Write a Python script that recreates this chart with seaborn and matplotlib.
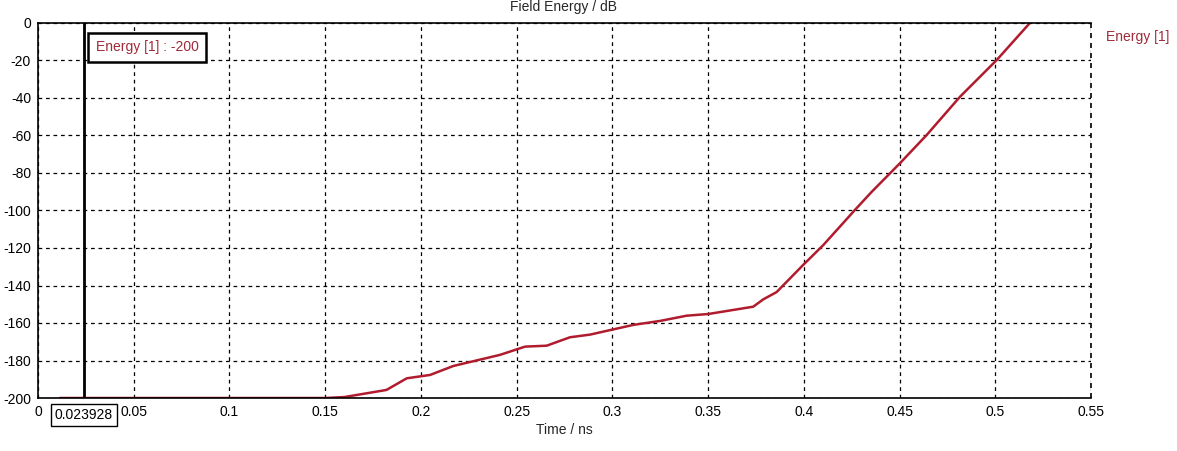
import pandas as pd
import matplotlib
matplotlib.use("Agg")
import matplotlib.pyplot as plt
import seaborn as sns

# Energy curve (time in ns, energy in dB)
time_ns = [0.0115, 0.05, 0.10, 0.150, 0.160, 0.182, 0.1926, 0.2048, 0.217, 0.2413,
           0.2544, 0.2657, 0.2779, 0.2883, 0.311, 0.3249, 0.3388, 0.3501, 0.3736,
           0.3788, 0.3858, 0.3997, 0.4102, 0.4267, 0.4355, 0.4502, 0.4642,
           0.4816, 0.5008, 0.5185]
energy_db = [-200, -200, -200, -200, -199.5, -195.7, -189.5, -187.7, -182.9, -177,
             -172.6, -172.1, -167.6, -166.2, -161, -158.9, -156.1, -155.2, -151.3,
             -147.4, -143.5, -129, -118.4, -99.7, -90, -74.8, -59.7,
             -39.3, -19.7, 0.5]

x_ticks = [0, 0.05, 0.1, 0.15, 0.2, 0.25, 0.3, 0.35, 0.4, 0.45, 0.5, 0.55]
x_tick_labels = ["0", "0.05", "0.1", "0.15", "0.2", "0.25", "0.3", "0.35", "0.4", "0.45", "0.5", "0.55"]
y_ticks = [0, -20, -40, -60, -80, -100, -120, -140, -160, -180, -200]

marker_t = 0.023928
marker_value = -200

df = pd.DataFrame({"Time": time_ns, "Energy": energy_db})

sns.set_style("white")
plt.rcParams["font.family"] = ["Liberation Sans", "DejaVu Sans"]
plt.rcParams["axes.unicode_minus"] = False

red = "#b01c2e"
text_red = "#a02a38"

fig = plt.figure(figsize=(11.77, 4.51), dpi=100)
ax = fig.add_axes([38 / 1177, 53 / 451, (1091 - 38) / 1177, (398 - 23) / 451])

sns.lineplot(data=df, x="Time", y="Energy", ax=ax, color=red, linewidth=1.8)

ax.set_xlim(0, 0.55)
ax.set_ylim(-200, 0)
ax.set_xticks(x_ticks)
ax.set_xticklabels(x_tick_labels)
ax.set_yticks(y_ticks)
ax.grid(True, color="black", linestyle=(0, (3, 3)), linewidth=0.9)
ax.axvline(0.55, color="black", linestyle=(0, (3, 3)), linewidth=1.2, clip_on=False)
ax.tick_params(direction="inout", length=6, width=1, labelsize=10, colors="black", pad=2)
for s in ["left", "bottom", "top"]:
    ax.spines[s].set_color("black")
    ax.spines[s].set_linewidth(1.2)
ax.spines["right"].set_visible(False)

ax.set_xlabel("Time / ns", fontsize=10, labelpad=3)
ax.set_ylabel("")

# marker line and its labels
ax.axvline(marker_t, color="black", linewidth=2)
ax.text(marker_t + 0.0062, -12.9, f"Energy [1] : {marker_value}", color=text_red, fontsize=10,
        va="center", ha="left",
        bbox=dict(boxstyle="square,pad=0.55", facecolor="white", edgecolor="black", linewidth=1.8))
ax.text(marker_t, -0.0445, f"{marker_t}", transform=ax.get_xaxis_transform(), color="black",
        fontsize=10, ha="center", va="center",
        bbox=dict(boxstyle="square,pad=0.3", facecolor="white", edgecolor="black", linewidth=1))

# legend entry on the right
fig.text(1106 / 1177, 1 - 37 / 451, "Energy [1]", color=text_red, fontsize=10, ha="left", va="center")

# title at the top edge
fig.text(564 / 1177, 0.999, "Field Energy / dB", fontsize=10, ha="center", va="top")

fig.savefig("out.png", dpi=100)
